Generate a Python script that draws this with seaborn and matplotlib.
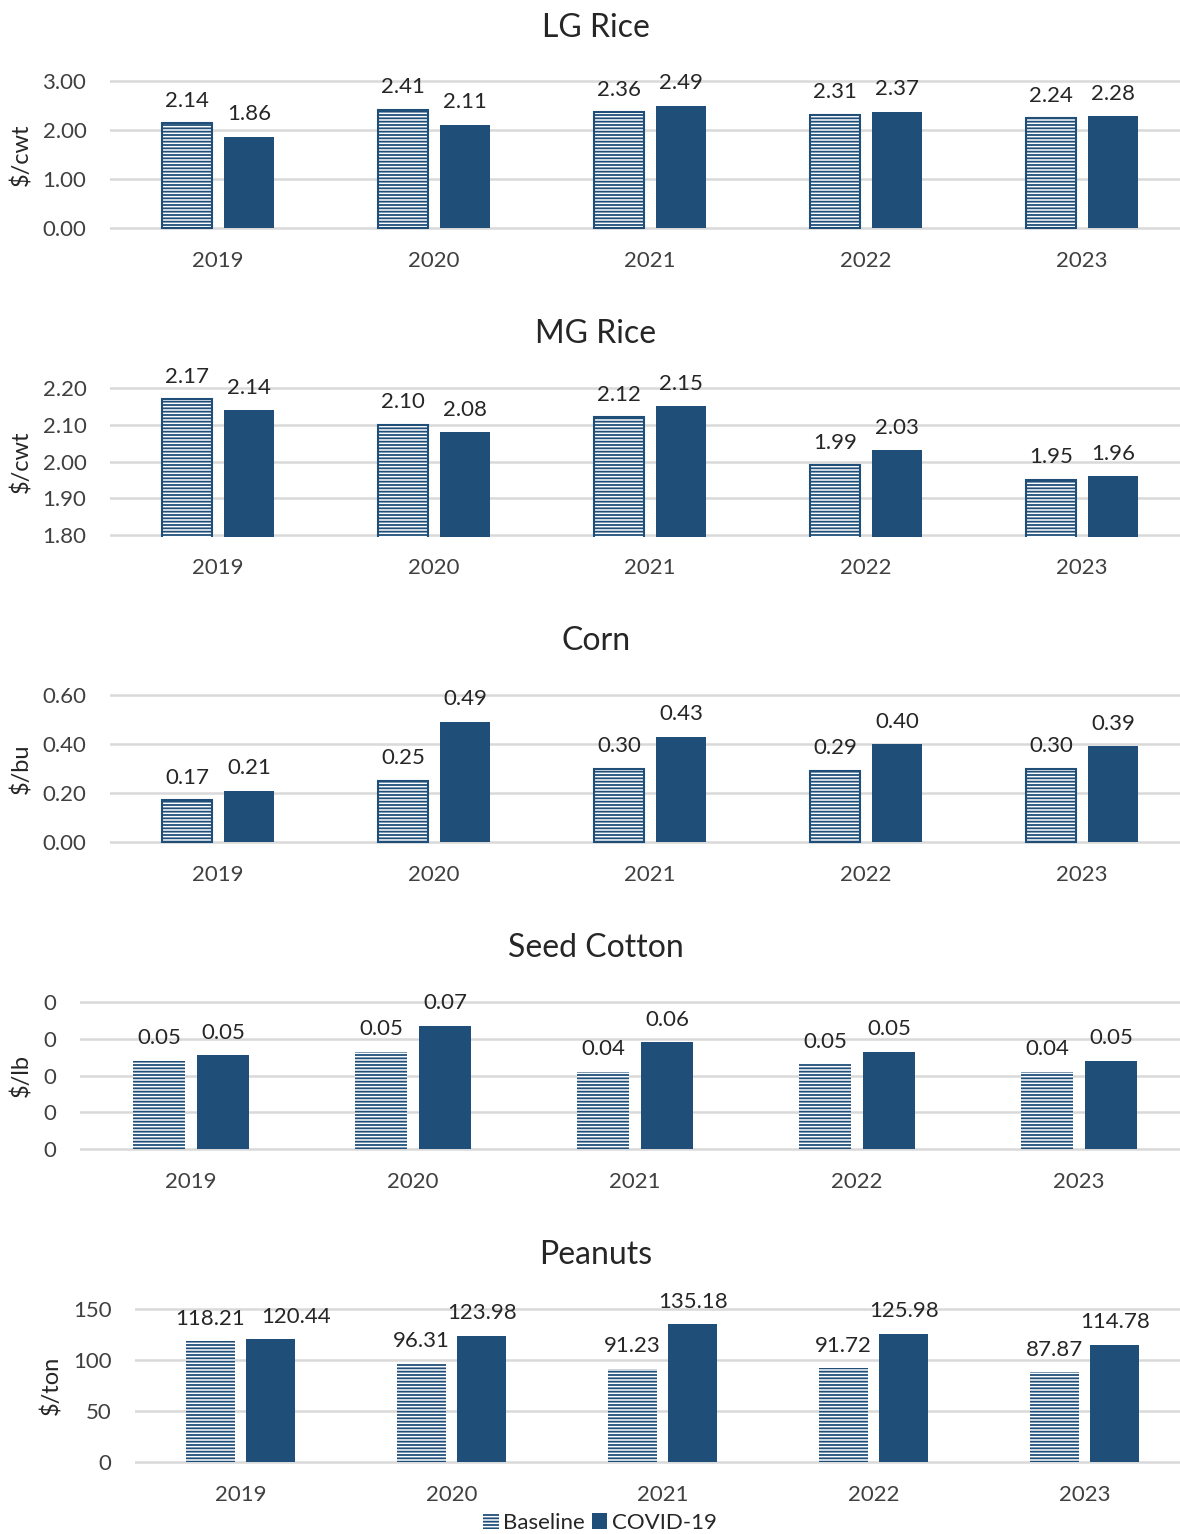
import pandas as pd
import matplotlib
import matplotlib.pyplot as plt
import matplotlib.patches as mpatches
import matplotlib.ticker as mticker
import seaborn as sns

# data
years = ['2019', '2020', '2021', '2022', '2023']
series_names = ['Baseline', 'COVID-19']

lg_base = [2.14, 2.41, 2.36, 2.31, 2.24]
lg_covid = [1.86, 2.11, 2.49, 2.37, 2.28]

mg_base = [2.17, 2.10, 2.12, 1.99, 1.95]
mg_covid = [2.14, 2.08, 2.15, 2.03, 1.96]

corn_base = [0.17, 0.25, 0.30, 0.29, 0.30]
corn_covid = [0.21, 0.49, 0.43, 0.40, 0.39]

cotton_base = [0.048, 0.053, 0.042, 0.046, 0.042]
cotton_covid = [0.051, 0.067, 0.058, 0.053, 0.048]

peanut_base = [118.21, 96.31, 91.23, 91.72, 87.87]
peanut_covid = [120.44, 123.98, 135.18, 125.98, 114.78]

blue = '#1F4E79'
grid_col = '#D9D9D9'
txt = '#262626'
W, H = 1180, 1534

plt.rcParams['font.family'] = ['Lato', 'DejaVu Sans']
plt.rcParams['hatch.linewidth'] = 1.3

fig = plt.figure(figsize=(W / 100, H / 100), dpi=100)

# title, ylabel, base, covid, ylim, ticks, fmt, left, top, bottom, ylabel x, title y, edge lw
panels = [
    ('LG Rice', '$/cwt', lg_base, lg_covid, (0, 3), [0, 1, 2, 3], '.2f', 110, 81, 228, 32, 28, 1.5),
    ('MG Rice', '$/cwt', mg_base, mg_covid, (1.8, 2.2), [1.8, 1.9, 2.0, 2.1, 2.2], '.2f', 110, 388, 535, 32, 334, 1.5),
    ('Corn', '$/bu', corn_base, corn_covid, (0, 0.6), [0, 0.2, 0.4, 0.6], '.2f', 110, 695, 842, 32, 641, 1.5),
    ('Seed Cotton', '$/lb', cotton_base, cotton_covid, (0, 0.08), [0, 0.02, 0.04, 0.06, 0.08], '.0f', 80, 1002, 1149, 32, 948, 0),
    ('Peanuts', '$/ton', peanut_base, peanut_covid, (0, 150), [0, 50, 100, 150], '.0f', 135, 1309, 1462, 62, 1255, 0),
]

right = 1190
for title, ylab, base, covid, (lo, hi), ticks, tfmt, left, top, bottom, ylx, ty, elw in panels:
    pad_px = 2
    per_px = (hi - lo) / (bottom - top)
    ax = fig.add_axes([left / W, 1 - (bottom + pad_px) / H,
                       (right - left) / W, (bottom - top + 2 * pad_px) / H])
    df = pd.DataFrame({
        'year': years * 2,
        'value': base + covid,
        'series': [series_names[0]] * 5 + [series_names[1]] * 5,
    })
    sns.barplot(data=df, x='year', y='value', hue='series', ax=ax,
                palette=[blue, blue], width=0.575, gap=0.19,
                errorbar=None, legend=False, saturation=1)
    for bar in ax.containers[0]:
        bar.set_facecolor('white')
        bar.set_edgecolor(blue)
        bar.set_hatch('-----')
        bar.set_linewidth(elw)
    for bar in ax.containers[1]:
        bar.set_linewidth(0)
    labels = []
    for cont in ax.containers:
        labels.append(ax.bar_label(cont, fmt='{:.2f}', padding=9, fontsize=16, color=txt))
    if title == 'Peanuts':
        # the first COVID label is pushed right in the original to clear its neighbour
        labels[1][0].set_position((18, 9))

    ax.set_ylim(lo - pad_px * per_px, hi + pad_px * per_px)
    ax.set_yticks(ticks)
    ax.yaxis.set_major_formatter(mticker.StrMethodFormatter('{x:' + tfmt + '}'))
    ax.grid(axis='y', color=grid_col, lw=1.8)
    ax.set_axisbelow(True)
    for s in ax.spines.values():
        s.set_visible(False)
    ax.tick_params(axis='both', length=0, labelsize=16, colors='#404040')
    ax.tick_params(axis='y', pad=17)
    ax.tick_params(axis='x', pad=15)
    ax.set_xlabel('')
    ax.set_ylabel(ylab, fontsize=17, color=txt)
    ax.yaxis.set_label_coords((ylx - left) / (right - left), 0.5)

    fig.text(596 / W, 1 - ty / H, title, ha='center', va='center',
             fontsize=23, color=txt)

handles = [
    mpatches.Patch(facecolor='white', edgecolor=blue, hatch='-----', lw=0),
    mpatches.Patch(facecolor=blue, lw=0),
]
fig.legend(handles, series_names, loc='center', bbox_to_anchor=(600 / W, 1 - 1523 / H),
           ncol=2, frameon=False, fontsize=16, handlelength=0.7, handleheight=0.7,
           columnspacing=0.3, handletextpad=0.2, borderpad=0, labelcolor=txt)

fig.savefig('out.png', dpi=100)
